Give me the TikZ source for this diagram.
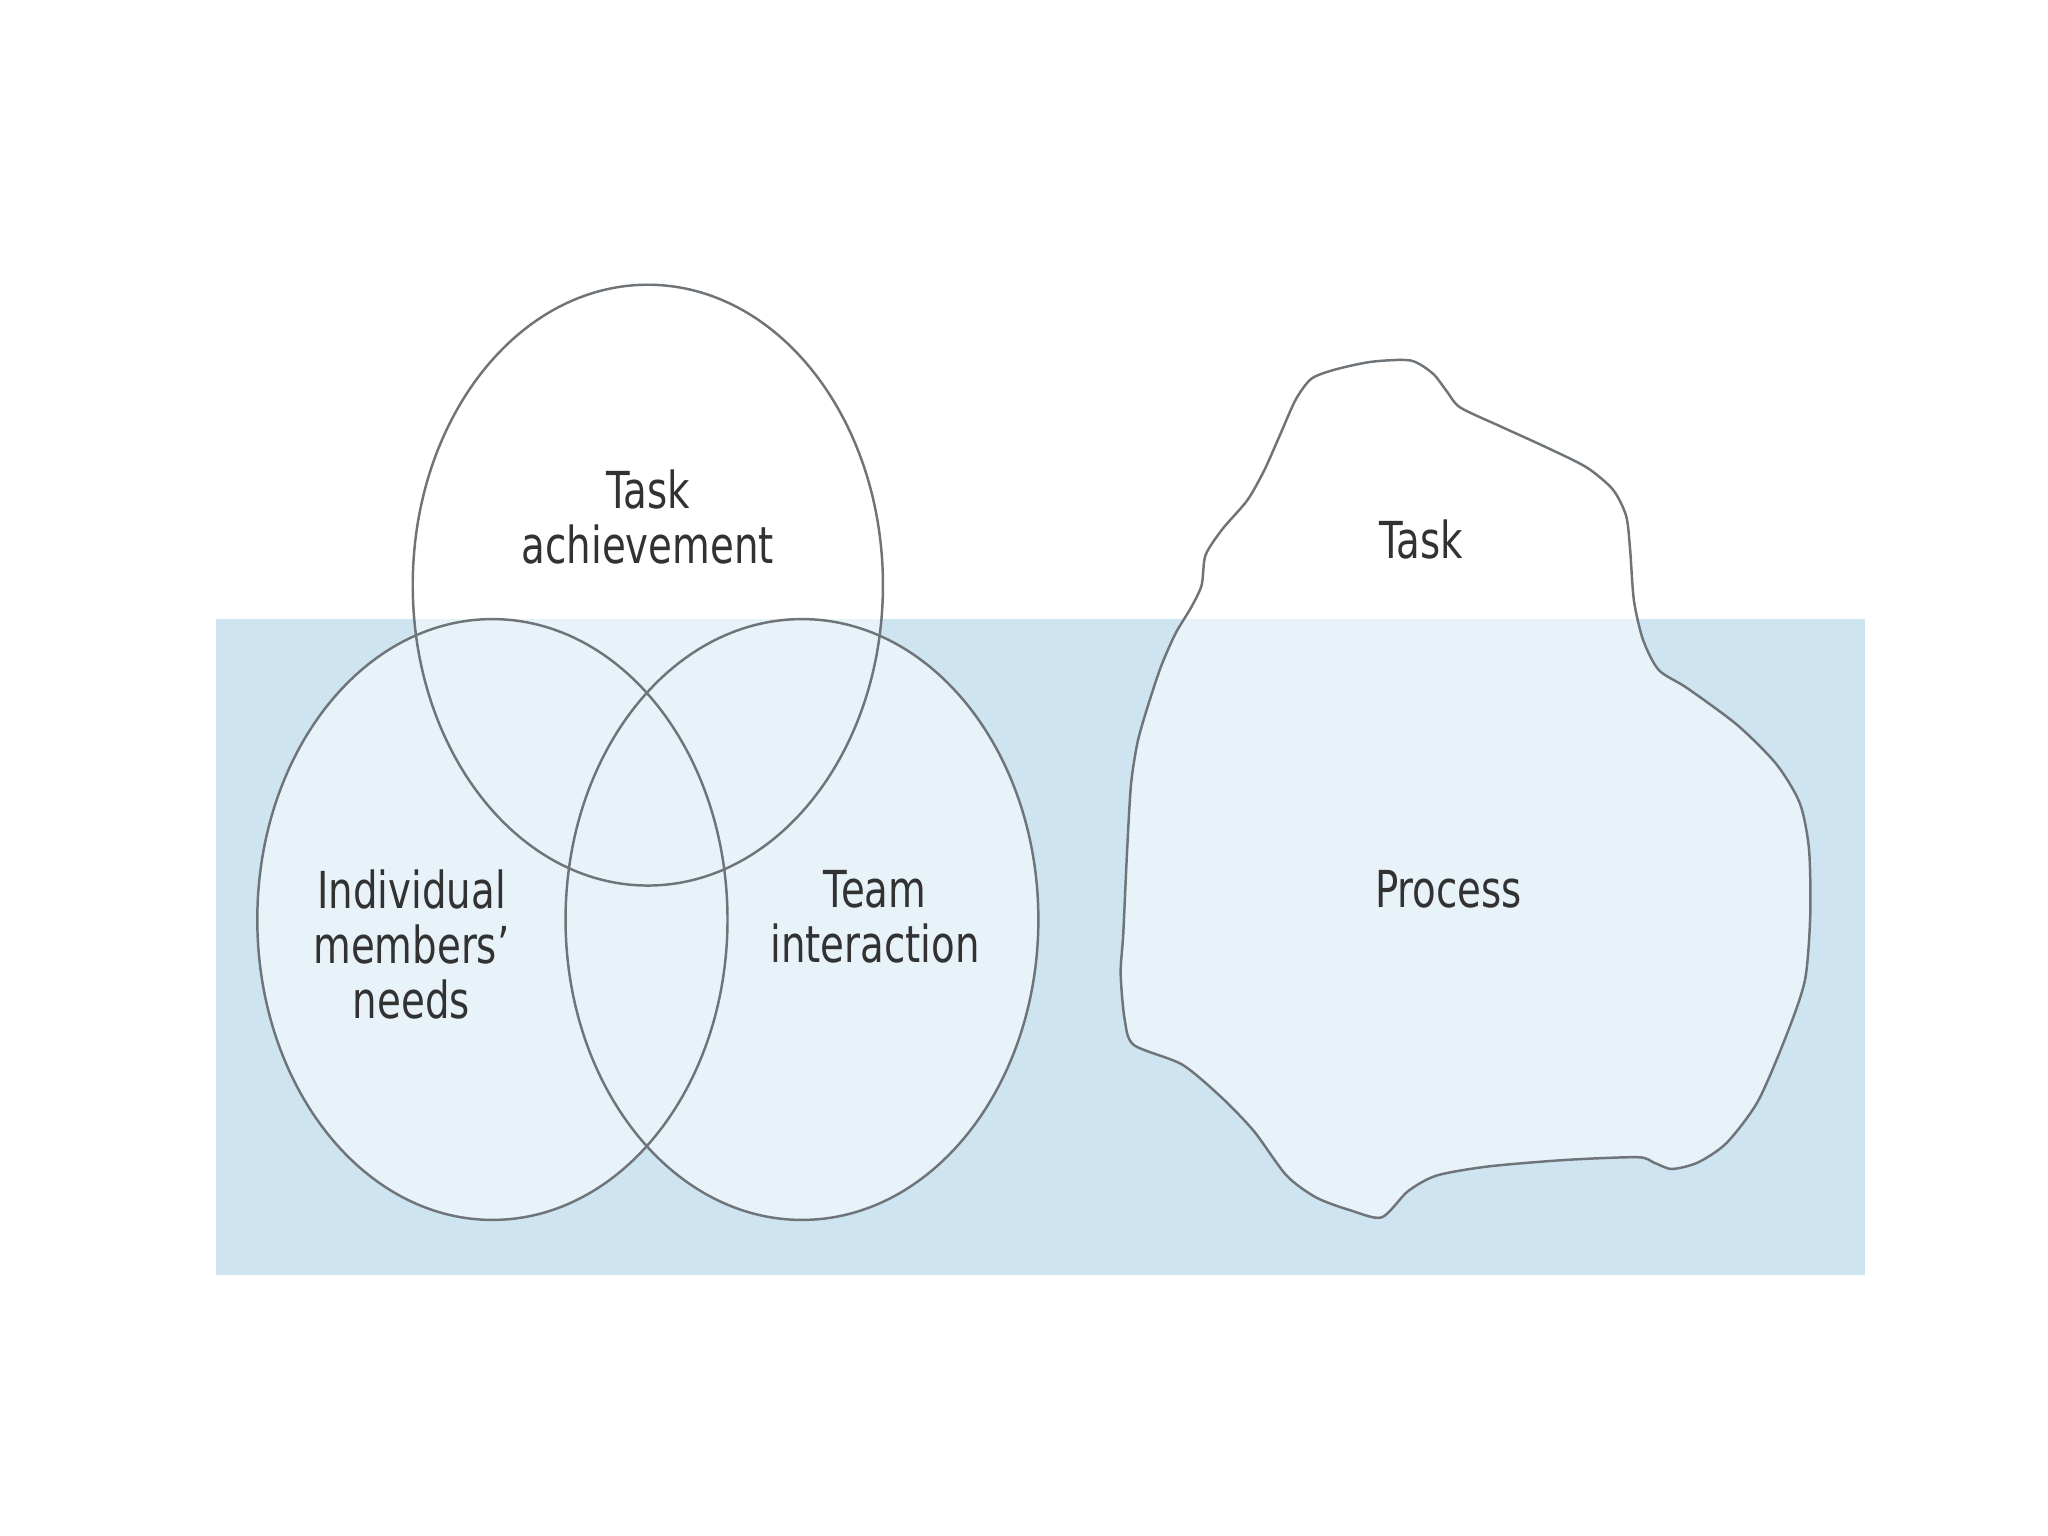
\documentclass[tikz,border=0pt]{standalone}
\usepackage{fontspec}
\setmainfont{DejaVu Sans}[FakeStretch=0.76]
\definecolor{water}{RGB}{206,228,240}
\definecolor{ice}{RGB}{232,242,249}
\definecolor{edge}{RGB}{110,116,120}
\definecolor{txt}{RGB}{50,50,50}
\begin{document}
\begin{tikzpicture}[x=0.01306cm,y=-0.01306cm,
  outline/.style={draw=edge,line width=0.7pt},
  lbl/.style={text=txt,align=center,font=\fontsize{14.5}{15.6}\selectfont,inner sep=0pt}]
\useasboundingbox (0,0) rectangle (1568,1176);
\fill[white] (0,0) rectangle (1568,1176);
\fill[water] (165,474) rectangle (1428,976);
\def\icepath{plot[smooth cycle,tension=0.45] coordinates {
 (1022,283) (1050,277) (1080,276) (1097,286) (1108,300) (1118,312)
 (1150,327) (1185,343) (1215,358) (1235,375) (1245,395) (1248,420)
 (1251,460) (1258,490) (1270,513) (1292,527) (1330,555) (1360,585)
 (1378,615) (1385,650) (1386,700) (1382,750) (1368,792) (1346,843)
 (1322,875) (1300,890) (1280,895) (1266,890) (1254,886) (1200,888)
 (1140,893) (1100,900) (1078,912) (1058,932) (1035,927) (1008,917)
 (985,900) (960,866) (935,840) (905,815) (868,800) (861,780)
 (858,745) (860,715) (863,650) (866,600) (871,568) (879,540)
 (889,510) (900,485) (912,465) (920,448) (923,425) (936,405)
 (955,383) (968,360) (980,333) (992,306) (1004,290)}}
\fill[ice] (496,448) ellipse [x radius=180,y radius=230];
\fill[ice] (377,704) ellipse [x radius=180,y radius=230];
\fill[ice] (614,704) ellipse [x radius=181,y radius=230];
\fill[ice] \icepath;
\fill[white] (0,0) rectangle (1568,474);
\draw[outline] (496,448) ellipse [x radius=180,y radius=230];
\draw[outline] (377,704) ellipse [x radius=180,y radius=230];
\draw[outline] (614,704) ellipse [x radius=181,y radius=230];
\draw[outline] \icepath;
\node[lbl] (ta) at (496,396) {Task\\achievement};
\node[lbl] (im) at (315,723) {Individual\\members’\\needs};
\node[lbl] (ti) at (670,702) {Team\\interaction};
\node[lbl] (tk) at (1088,413) {Task};
\node[lbl] (pr) at (1109,681) {Process};
\end{tikzpicture}
\end{document}
